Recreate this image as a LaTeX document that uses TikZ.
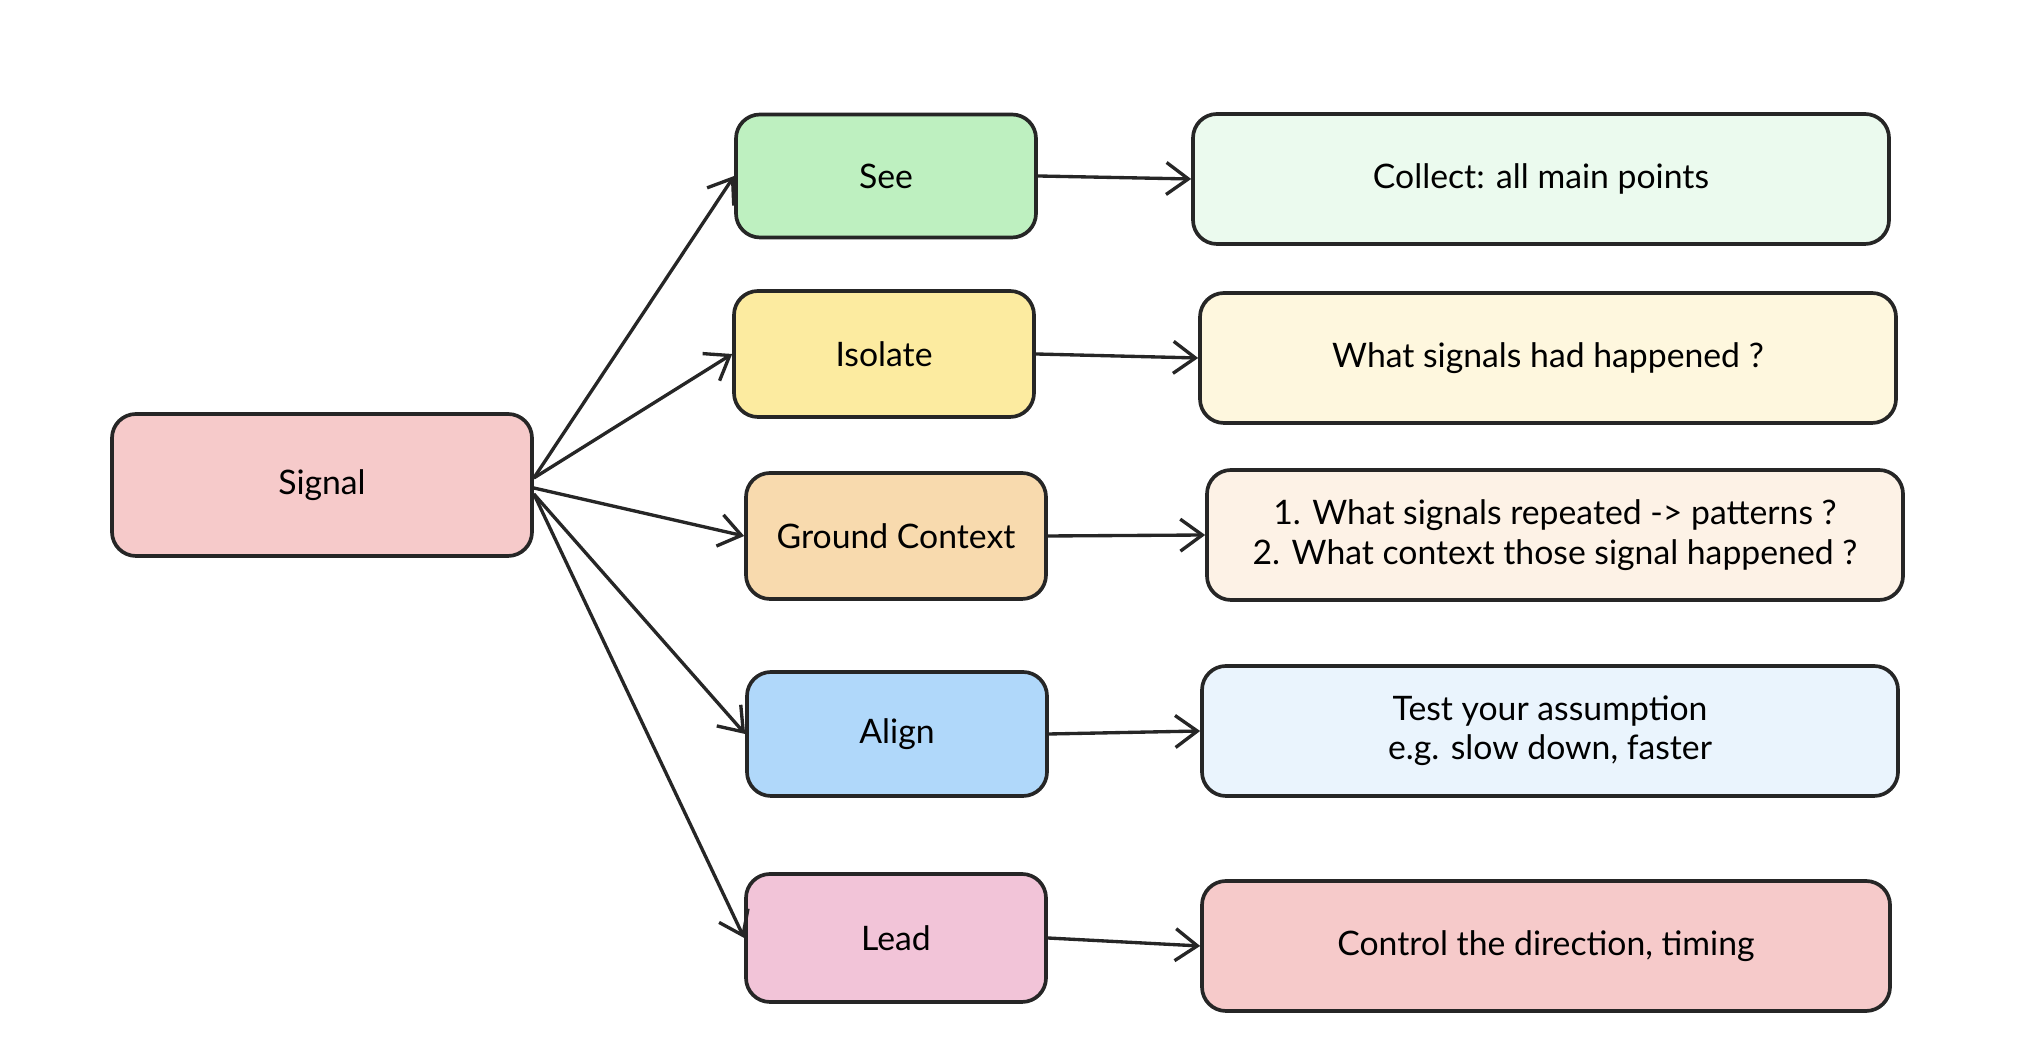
\documentclass[tikz,border=0pt]{standalone}
\usepackage{fontspec}
\setmainfont{Lato}
\usetikzlibrary{arrows.meta,positioning}
\usepackage{xcolor}

\definecolor{rojo}{HTML}{F6CACA}
\definecolor{verde}{HTML}{BEF0C0}
\definecolor{amarillo}{HTML}{FCEBA0}
\definecolor{naranja}{HTML}{F8DAAE}
\definecolor{azul}{HTML}{B0D8FA}
\definecolor{rosa}{HTML}{F2C4D8}
\definecolor{verdeclaro}{HTML}{EBFAEE}
\definecolor{amarilloclaro}{HTML}{FEF7DE}
\definecolor{naranjaclaro}{HTML}{FDF2E6}
\definecolor{azulclaro}{HTML}{EAF4FD}

\begin{document}
\begin{tikzpicture}[
  x=1mm, y=-1mm,
  stagebox/.style={rectangle, rounded corners=2.4mm, draw=black!85, line width=1.05pt, align=center, inner sep=0pt, minimum width=30mm, minimum height=12.6mm, font=\fontsize{9.6}{11.2}\selectfont},
  notebox/.style={stagebox, minimum width=69.6mm, minimum height=13mm},
  flow/.style={-{Straight Barb[length=2.2mm, width=3.2mm]}, line width=0.95pt, draw=black!85}
]
\useasboundingbox (0,0) rectangle (202.4,106.4);
\node[stagebox, fill=rojo, minimum width=42mm, minimum height=14.2mm] (signal) at (32.2,48.5) {Signal};
\node[stagebox, fill=verde, minimum height=12.3mm] (see) at (88.6,17.6) {See};
\node[stagebox, fill=amarillo] (isolate) at (88.4,35.4) {Isolate};
\node[stagebox, fill=naranja] (ground) at (89.6,53.6) {Ground Context};
\node[stagebox, fill=azul, minimum height=12.4mm] (align) at (89.7,73.4) {Align};
\node[stagebox, fill=rosa, minimum height=12.8mm] (lead) at (89.6,93.8) {Lead};
\node[notebox, fill=verdeclaro] (collect) at (154.1,17.9) {Collect: all main points};
\node[notebox, fill=amarilloclaro] (happened) at (154.8,35.8) {What signals had happened ?};
\node[notebox, fill=naranjaclaro] (patterns) at (155.5,53.5) {1. What signals repeated -> patterns ?\\2. What context those signal happened ?};
\node[notebox, fill=azulclaro] (assume) at (155.0,73.1) {Test your assumption\\e.g. slow down, faster};
\node[notebox, fill=rojo, minimum width=68.8mm] (control) at (154.6,94.6) {Control the direction, timing};
\draw[flow] ([yshift=0.7mm]signal.east) -- (see.west);
\draw[flow] ([yshift=0.7mm]signal.east) -- (isolate.west);
\draw[flow] ([yshift=-0.3mm]signal.east) -- (ground.west);
\draw[flow] ([yshift=-0.9mm]signal.east) -- (align.west);
\draw[flow] ([yshift=-0.9mm]signal.east) -- (lead.west);
\draw[flow] (see.east) -- (collect.west);
\draw[flow] (isolate.east) -- (happened.west);
\draw[flow] (ground.east) -- (patterns.west);
\draw[flow] (align.east) -- (assume.west);
\draw[flow] (lead.east) -- (control.west);
\end{tikzpicture}
\end{document}
